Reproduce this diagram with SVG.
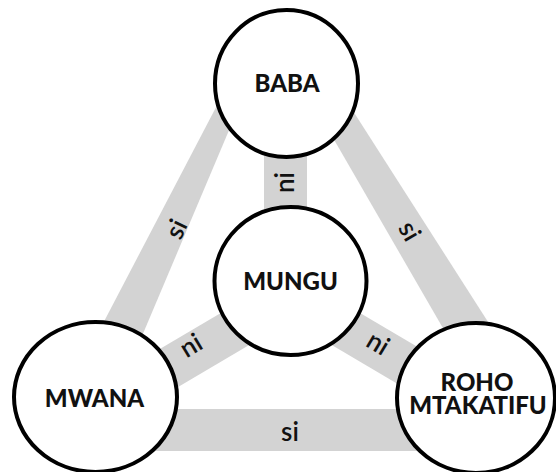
<svg xmlns="http://www.w3.org/2000/svg" width="556" height="472" viewBox="0 0 556 472">
<style>
.band{fill:#d3d3d3}
.bandl{stroke:#d3d3d3;stroke-width:42;fill:none}
.node{fill:#fff;stroke:#000;stroke-width:4}
.nl{font-family:Lato,"Noto Sans",sans-serif;font-weight:900;font-size:24px;fill:#111;text-anchor:middle}
.el{font-family:Lato,"Noto Sans",sans-serif;font-weight:600;font-size:26px;fill:#111;text-anchor:middle}
</style>
<g id="connectors">
<polygon class="band" points="219.8,100 241.8,100 136.1,350 89.1,350"/>
<polygon class="band" points="311.1,100 346,100 506,350 455.6,350"/>
<rect class="band" x="264" y="140" width="43" height="80"/>
<rect class="band" x="100" y="409" width="380" height="42"/>
<line class="bandl" x1="290" y1="296.5" x2="120" y2="396.8"/>
<line class="bandl" x1="290" y1="296" x2="460" y2="396.4"/>
<text class="el" transform="translate(178,230) rotate(-64)" y="7">si</text>
<text class="el" transform="translate(408,232) rotate(60)" y="7">si</text>
<text class="el" transform="translate(290,432)" y="9">si</text>
<text class="el" transform="translate(287,182.5) rotate(-90)" y="7">ni</text>
<text class="el" transform="translate(192,347) rotate(-31)" y="7">ni</text>
<text class="el" transform="translate(377,345) rotate(31)" y="7">ni</text>
</g>
<g id="baba">
<ellipse class="node" cx="286.5" cy="83.5" rx="71.5" ry="73.5"/>
<text class="nl" x="287" y="92">BABA</text>
</g>
<g id="mungu">
<ellipse class="node" cx="290.5" cy="281" rx="76" ry="74"/>
<text class="nl" x="290.5" y="290">MUNGU</text>
</g>
<g id="mwana">
<ellipse class="node" cx="95.5" cy="397" rx="81.5" ry="75"/>
<text class="nl" x="94.5" y="407">MWANA</text>
</g>
<g id="roho">
<ellipse class="node" cx="476" cy="398" rx="79" ry="75"/>
<text class="nl" x="477" y="391">ROHO</text>
<text class="nl" x="478" y="414">MTAKATIFU</text>
</g>
</svg>
